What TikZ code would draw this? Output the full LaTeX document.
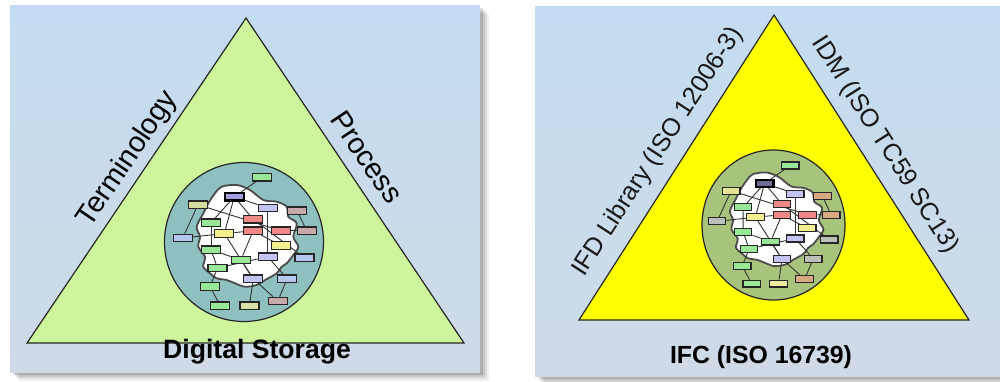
\documentclass[tikz,border=0pt]{standalone}
\usepackage{fontspec}
\setmainfont{Liberation Sans}
\pgfdeclarelayer{bg}
\pgfdeclarelayer{edges}
\pgfsetlayers{bg,edges,main}
\definecolor{bgtop}{HTML}{C4DCF1}
\definecolor{bgbot}{HTML}{CFDAE6}
\definecolor{trigreen}{HTML}{CCF59C}
\definecolor{triyellow}{HTML}{FFFF00}
\definecolor{circteal}{HTML}{8FC0C0}
\definecolor{circolive}{HTML}{A8C47C}
\definecolor{ngreen}{HTML}{98E898}
\definecolor{nnavy}{HTML}{A0A0E0}
\definecolor{nolive}{HTML}{D8DC9C}
\definecolor{nlav}{HTML}{C4C4F4}
\definecolor{nmauve}{HTML}{C8A8A8}
\definecolor{nred}{HTML}{F08888}
\definecolor{nyellow}{HTML}{F4F090}
\definecolor{nlblue}{HTML}{B4C8EC}
\definecolor{nlyg}{HTML}{D8E0A8}
\tikzset{
  nb/.style={draw=black!85, line width=0.6pt, minimum width=9.5pt, minimum height=3.75pt, inner sep=0pt},
  nsel/.style={nb, draw=black, line width=1.2pt},
  edge/.style={draw=black!80, line width=0.45pt},
  cloudline/.style={draw=black!70, line width=0.9pt, fill=white},
  tri/.style={draw=black!85, line width=0.6pt},
  circ/.style={draw=black!85, line width=0.6pt},
  lbl/.style={inner sep=0pt, font=\fontsize{14.5}{17}\selectfont, text=black},
  blbl/.style={inner sep=0pt, font=\fontsize{13.3}{16}\selectfont\bfseries, text=black},
  rlbl/.style={inner sep=0pt, font=\fontsize{12.6}{15}\selectfont, text=black!90},
  rblbl/.style={inner sep=0pt, font=\fontsize{12.4}{15}\selectfont\bfseries, text=black},
}
\newcommand\mynet[1]{%
  \begin{pgfonlayer}{bg}
    \draw[cloudline] plot[smooth cycle, tension=0.55] coordinates {
      (-22.3,-55.3) (-7.3,-57) (6,-52) (19.3,-42) (32.7,-40.3) (42.7,-35.3)
      (44.3,-25.3) (52.7,-18.7) (49.3,-5.3) (54.3,4.7) (49.3,13) (42.7,21.3)
      (37.7,24.7) (32.7,31.3) (21,38) (12.7,43) (1,44.7) (-9,41.3) (-17.3,38)
      (-27.3,36.3) (-34,31.3) (-40.7,24.7) (-39,14.7) (-45.7,4.7) (-44,-5.3)
      (-47.3,-15.3) (-40.7,-28.7) (-35.7,-38.7) (-29,-48.7)};
  \end{pgfonlayer}
  \node[nb, fill=ngreen]  (#1-1)  at (18.3,-64.7) {};
  \node[nsel, fill=nnavy] (#1-2)  at (-9.7,-45.3) {};
  \node[nb, fill=nolive]  (#1-3)  at (-46,-37.3) {};
  \node[nb, fill=nlav]    (#1-4)  at (23.7,-34) {};
  \node[nb, fill=nmauve]  (#1-5)  at (53.2,-31.3) {};
  \node[nb, fill=nred]    (#1-6)  at (9.2,-22.7) {};
  \node[nb, fill=ngreen]  (#1-7)  at (-33,-19.3) {};
  \node[nb, fill=nred]    (#1-8)  at (9.2,-11.2) {};
  \node[nb, fill=nred]    (#1-9)  at (37,-11.2) {};
  \node[nb, fill=nmauve]  (#1-10) at (62.7,-11.2) {};
  \node[nb, fill=nyellow] (#1-11) at (-19.7,-8.5) {};
  \node[nb, fill=nlblue]  (#1-12) at (-61.3,-4) {};
  \node[nb, fill=nyellow] (#1-13) at (36.7,3.5) {};
  \node[nb, fill=ngreen]  (#1-14) at (-33,7.7) {};
  \node[nb, fill=nlav]    (#1-15) at (23.7,14.7) {};
  \node[nb, fill=nlblue]  (#1-16) at (60.5,15.8) {};
  \node[nb, fill=ngreen]  (#1-17) at (-3.2,18) {};
  \node[nb, fill=ngreen]  (#1-18) at (-26.5,26) {};
  \node[nb, fill=nlav]    (#1-19) at (9.2,36.8) {};
  \node[nb, fill=nlblue]  (#1-20) at (43.2,36.7) {};
  \node[nb, fill=ngreen]  (#1-21) at (-34,44.5) {};
  \node[nb, fill=ngreen]  (#1-22) at (-23.7,63.7) {};
  \node[nb, fill=nlyg]    (#1-23) at (5.5,63.7) {};
  \node[nb, fill=nmauve]  (#1-24) at (33.8,59) {};
  \begin{pgfonlayer}{edges}
    \draw[edge] (#1-1) -- (#1-2);
    \draw[edge] (#1-2) -- (#1-7);
    \draw[edge] (#1-2) -- (#1-11);
    \draw[edge] (#1-2) -- (#1-6);
    \draw[edge] (#1-2) -- (#1-4);
    \draw[edge] (#1-3) -- (#1-12);
    \draw[edge] (#1-3) -- (#1-9);
    \draw[edge] (#1-4) -- (#1-15);
    \draw[edge] (#1-5) -- (#1-10);
    \draw[edge] (#1-7) -- (#1-14);
    \draw[edge] (#1-12) -- (#1-11);
    \draw[edge] (#1-11) -- (#1-8);
    \draw[edge] (#1-9) -- (#1-10);
    \draw[edge] (#1-8) -- (#1-13);
    \draw[edge] (#1-6) -- (#1-16);
    \draw[edge] (#1-11) -- (#1-19);
    \draw[edge] (#1-14) -- (#1-17);
    \draw[edge] (#1-15) -- (#1-20);
    \draw[edge] (#1-17) -- (#1-19);
    \draw[edge] (#1-17) -- (#1-8);
    \draw[edge] (#1-14) -- (#1-18);
    \draw[edge] (#1-18) -- (#1-21);
    \draw[edge] (#1-21) -- (#1-22);
    \draw[edge] (#1-19) -- (#1-23);
    \draw[edge] (#1-19) -- (#1-24);
    \draw[edge] (#1-20) -- (#1-24);
    \draw[edge] (#1-18) -- (#1-15);
  \end{pgfonlayer}
}
\begin{document}
\begin{tikzpicture}[x=0.5pt, y=-0.5pt]
\useasboundingbox (0,0) rectangle (1000,381);
\begin{pgfonlayer}{bg}
  \fill[white] (0,0) rectangle (1000,381);
  % shadows
  \foreach \d/\o in {9/0.06, 7/0.08, 5/0.1, 3/0.12}{
    \fill[black, opacity=\o] (10+\d,5+\d) rectangle (480+\d,372+\d);
    \fill[black, opacity=\o] (535+\d,6+\d) rectangle (1010,376+\d);
  }
  % panels
  \shade[top color=bgtop, bottom color=bgbot] (10,5) rectangle (480,372);
  \shade[top color=bgtop, bottom color=bgbot] (535,6) rectangle (1000,376);
  % left triangle and circle
  \draw[tri, fill=trigreen] (27,343) -- (246,18) -- (464,343) -- cycle;
  \draw[circ, fill=circteal] (244,242) circle [radius=79.5];
  % right triangle and ellipse
  \draw[tri, fill=triyellow] (579,320) -- (774,15) -- (969,320) -- cycle;
  \draw[circ, fill=circolive] (773.5,225) ellipse [x radius=71.5, y radius=75];
\end{pgfonlayer}
\begin{scope}[shift={(244,242)}]
  \mynet{L}
\end{scope}
\begin{scope}[shift={(773.5,225)}, scale=0.92, transform shape]
  \definecolor{nnavy}{HTML}{6C6C94}
  \definecolor{nolive}{HTML}{E4E494}
  \definecolor{nmauve}{HTML}{D8A880}
  \definecolor{nlblue}{HTML}{B8C0B8}
  \definecolor{nlyg}{HTML}{ECEC9C}
  \mynet{R}
\end{scope}
% labels
\node[lbl, rotate=56] (term) at (128,159) {Terminology};
\node[lbl, rotate=-56] (proc) at (367,157) {Process};
\node[blbl, anchor=base] (ds) at (257,358) {Digital Storage};
\node[rlbl, rotate=57] (ifd) at (658,152) {IFD Library (ISO 12006-3)};
\node[rlbl, rotate=-57.5] (idm) at (885,145) {IDM (ISO TC59 SC13)};
\node[rblbl, anchor=base] (ifc) at (761,363) {IFC (ISO 16739)};
\end{tikzpicture}
\end{document}
